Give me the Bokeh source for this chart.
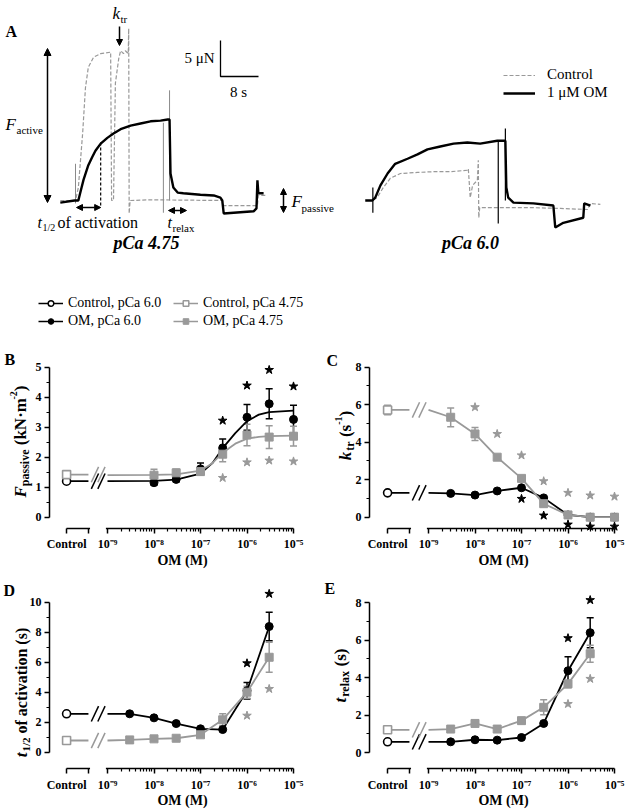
import math
import numpy as np
from bokeh.plotting import figure
from bokeh.models import (ColumnDataSource, Whisker, TeeHead, Label, Arrow, NormalHead,
                          FixedTicker, BoxAnnotation, Legend, LegendItem, Range1d)
from bokeh.layouts import column, row
from bokeh.embed import file_html
from bokeh.resources import INLINE

SERIF = "Liberation Serif"
BLACK = "#000000"
GRAY = "#999999"
TRACE_GRAY = "#8a8a8a"

# ---------------- Panel A: force traces (time in s, force in uN) ----------------
ctl475_t = [-3.2, 0.0, 0.6, 1.5, 2.1, 2.7, 3.8, 5.3, 7.4, 7.6, 8.0, 8.4, 9.1, 9.5, 10.1, 10.5, 11.1, 11.2, 11.3, 11.5, 15.8, 30.9, 31.2, 38.3, 38.5, 40.0]
ctl475_f = [0.0, 0.0, 1.8, 9.3, 15.7, 18.5, 19.9, 20.4, 20.6, 0.0, 0.0, 16.3, 19.7, 20.8, 20.4, 20.8, 20.4, 23.9, -1.8, 0.0, 0.1, 0.0, -0.7, -0.7, 0.7, 0.7]
om475_t = [-3.2, -0.2, 0.6, 1.2, 1.7, 2.7, 3.5, 4.2, 5.3, 6.7, 8.0, 9.5, 11.6, 13.7, 15.8, 17.9, 19.4, 19.8, 20.0, 20.6, 21.5, 22.7, 26.3, 29.1, 30.5, 30.9, 31.2, 33.3, 37.5, 38.1, 38.3, 38.5, 39.6]
om475_f = [-0.3, 0.0, 0.0, 1.6, 2.9, 4.9, 6.0, 6.9, 7.9, 8.7, 9.3, 9.9, 10.4, 10.7, 11.0, 11.1, 11.25, 11.25, 3.75, 1.8, 1.1, 1.0, 0.8, 0.7, 0.4, 0.0, -1.8, -1.7, -1.5, -1.1, 2.8, 1.0, 1.0]
om475_tr_t = [0.0, 18.5, 19.8]
om475_tr_lo = [-0.4, -1.7, 0.0]
om475_tr_hi = [5.1, 10.8, 15.3]

ctl60_t = [-1.0, 0.0, 1.0, 2.3, 3.8, 5.9, 9.5, 12.8, 16.4, 20.0, 20.2, 20.6, 21.1, 22.1, 22.3, 22.4, 22.6, 26.9, 33.9, 39.6, 45.3, 45.9, 48.0]
ctl60_f = [0.0, 0.0, 0.4, 1.8, 3.1, 3.75, 3.9, 4.0, 4.0, 4.2, 4.4, 0.4, 2.1, 2.8, 5.6, -2.4, -1.0, -1.0, -1.0, -1.1, -1.25, -0.4, -0.55]
om60_t = [-1.5, 0.0, 0.6, 1.7, 3.2, 4.8, 7.4, 9.5, 11.6, 14.3, 17.1, 20.0, 22.7, 26.3, 28.0, 28.2, 28.6, 29.7, 33.9, 38.1, 38.5, 40.2, 44.4, 44.6, 45.9]
om60_f = [0.0, 0.0, 0.4, 2.1, 3.75, 5.1, 5.8, 6.4, 7.1, 7.5, 7.9, 8.05, 7.9, 8.3, 8.3, 1.8, 0.4, -0.3, -0.4, -0.7, -3.75, -3.1, -2.4, -0.4, -0.7]
om60_tr_t = [0.1, 26.5, 28.0]
om60_tr_lo = [-1.7, -3.2, 0.0]
om60_tr_hi = [1.8, 8.3, 10.0]

T_HALF = 5.3          # s, half-time of activation (OM, pCa 4.75)
SCALE_FORCE = 5.0     # uN
SCALE_TIME = 8.0      # s

# ---------------- Panels B-E: concentration-response data ----------------
CONC_B = [1e-8, 3e-8, 1e-7, 3e-7, 1e-6, 3e-6, 1e-5]
CONC_C = [3e-9, 1e-8, 3e-8, 1e-7, 3e-7, 1e-6, 3e-6, 1e-5]
CONC_DE = [3e-9, 1e-8, 3e-8, 1e-7, 3e-7, 1e-6, 3e-6]

# B: F_passive (kN m^-2)
b_ctrl60, b_ctrl475 = 1.20, 1.42
b_om60 = [1.15, 1.26, 1.61, 2.31, 3.33, 3.78, 3.26]
b_om60_err = [0.08, 0.08, 0.20, 0.30, 0.43, 0.50, 0.47]
b_om475 = [1.40, 1.48, 1.52, 2.10, 2.74, 2.67, 2.70]
b_om475_err = [0.20, 0.12, 0.12, 0.25, 0.36, 0.38, 0.33]
FIT_CONC = [1e-9, 1e-8, 3e-8, 1e-7, 1.8e-7, 3e-7, 5.6e-7, 1e-6, 1.8e-6, 3e-6, 1e-5]
b_fit60 = [1.20, 1.21, 1.25, 1.45, 1.80, 2.30, 2.80, 3.20, 3.42, 3.50, 3.55]
b_fit475 = [1.40, 1.41, 1.43, 1.55, 1.80, 2.15, 2.45, 2.62, 2.68, 2.70, 2.72]
b_star60_conc = [3e-7, 1e-6, 3e-6, 1e-5]
b_star60_y = [3.22, 4.39, 4.91, 4.36]
b_star475_conc = [3e-7, 1e-6, 3e-6, 1e-5]
b_star475_y = [1.31, 1.83, 1.89, 1.86]

# C: k_tr (s^-1)
c_ctrl60, c_ctrl475 = 1.30, 5.72
c_ctrl475_err = 0.25
c_om60 = [1.27, 1.18, 1.40, 1.57, 1.03, 0.12, 0.0, 0.0]
c_om60_err = [0.05, 0.05, 0.05, 0.05, 0.05, 0.03, 0.02, 0.02]
c_om475 = [5.33, 4.44, 3.20, 2.07, 0.72, 0.12, 0.0, 0.0]
c_om475_err = [0.50, 0.35, 0.12, 0.12, 0.15, 0.05, 0.02, 0.02]
c_star475_conc = [1e-8, 3e-8, 1e-7, 3e-7, 1e-6, 3e-6, 1e-5]
c_star475_y = [5.87, 4.44, 3.30, 1.92, 1.30, 1.16, 1.10]
c_star60_conc = [1e-7, 3e-7, 1e-6, 3e-6, 1e-5]
c_star60_y = [0.98, 0.09, -0.39, -0.50, -0.50]

# D: t1/2 of activation (s)
d_ctrl60, d_ctrl475 = 2.56, 0.78
d_om60 = [2.56, 2.29, 1.91, 1.56, 1.51, 4.10, 8.38]
d_om60_err = [0.05, 0.05, 0.05, 0.05, 0.05, 0.55, 0.95]
d_om475 = [0.82, 0.89, 0.93, 1.16, 2.16, 4.00, 6.33]
d_om475_err = [0.05, 0.05, 0.05, 0.10, 0.40, 0.40, 1.00]
d_star60_conc, d_star60_y = [1e-6, 3e-6], [5.93, 10.56]
d_star475_conc, d_star475_y = [1e-6, 3e-6], [2.44, 4.22]

# E: t_relax (s)
e_ctrl60, e_ctrl475 = 0.57, 1.21
e_om60 = [0.57, 0.68, 0.66, 0.80, 1.55, 4.36, 6.39]
e_om60_err = [0.05, 0.05, 0.05, 0.05, 0.05, 0.75, 0.80]
e_om475 = [1.25, 1.55, 1.25, 1.70, 2.41, 3.66, 5.27]
e_om475_err = [0.05, 0.10, 0.05, 0.05, 0.40, 0.20, 0.45]
e_star60_conc, e_star60_y = [1e-6, 3e-6], [6.10, 8.13]
e_star475_conc, e_star475_y = [1e-6, 3e-6], [2.59, 3.93]

DECADES = [-9.0, -8.0, -7.0, -6.0, -5.0]
DECADE_LABELS = ["10\u207b\u2079", "10\u207b\u2078", "10\u207b\u2077", "10\u207b\u2076", "10\u207b\u2075"]

# ---------------- layout constants ----------------
CTRL_X = -9.88
BRACKET_END = -9.41
BREAK_X = [-9.27, -9.13]
PX_DEC = 46.5


def lg(v):
    return list(np.log10(v))


def label(p, x, y, text, size, style="normal", align="left", baseline="middle",
          color=BLACK, angle=0.0, dx=0, dy=0):
    p.add_layout(Label(x=x, y=y, text=text, text_font=SERIF, text_font_size=f"{size}px",
                       text_font_style=style, text_align=align, text_baseline=baseline,
                       text_color=color, angle=angle, x_offset=dx, y_offset=dy))


# ================= Panel A =================
A_W, A_H = 628, 330
A_T0, A_PXS = 75.0, 4.75      # page x of t=0, px per second
A_F0, A_PYU = 200.0, 7.2      # page y of F=0, px per uN
TRACE2_OFFSET = 62.5


def ax(px):
    return (px - A_T0) / A_PXS


def ay(py):
    return (A_F0 - py) / A_PYU


pA = figure(width=A_W, height=A_H, x_range=Range1d(ax(0), ax(A_W)), y_range=Range1d(ay(A_H), ay(0)),
            x_axis_type=None, y_axis_type=None, output_backend="svg",
            toolbar_location=None, title=None, min_border=0)
pA.outline_line_color = None
pA.grid.visible = False

rc1 = pA.line(ctl475_t, ctl475_f, line_color=GRAY, line_width=1.2, line_dash="4 2")
pA.segment(x0=om475_tr_t, y0=om475_tr_lo, x1=om475_tr_t, y1=om475_tr_hi,
           line_color=TRACE_GRAY, line_width=1)
ro1 = pA.line(om475_t, om475_f, line_color=BLACK, line_width=2.4)

t2c = [t + TRACE2_OFFSET for t in ctl60_t]
t2o = [t + TRACE2_OFFSET for t in om60_t]
t2tr = [t + TRACE2_OFFSET for t in om60_tr_t]
rc2 = pA.line(t2c, ctl60_f, line_color=GRAY, line_width=1.2, line_dash="4 2")
pA.segment(x0=t2tr, y0=om60_tr_lo, x1=t2tr, y1=om60_tr_hi, line_color=BLACK, line_width=1.2)
ro2 = pA.line(t2o, om60_f, line_color=BLACK, line_width=2.4)

# t1/2 marker
pA.segment(x0=[T_HALF], y0=[ay(142)], x1=[T_HALF], y1=[ay(207)], line_color=BLACK,
           line_width=1.2, line_dash="3 2")

# scale bar
sb_x, sb_y = ax(220), ay(76)
pA.line([sb_x, sb_x, sb_x + SCALE_TIME], [sb_y + SCALE_FORCE, sb_y, sb_y],
        line_color=BLACK, line_width=1.3)
label(pA, ax(214), ay(57), "5 \u03bcN", 15, align="right")
label(pA, ax(238), ay(91), "8 s", 15, align="center")


def darrow(x0, y0, x1, y1, size=7, both=True):
    pA.add_layout(Arrow(x_start=x0, y_start=y0, x_end=x1, y_end=y1, line_width=1.5,
                        start=NormalHead(size=size, fill_color=BLACK, line_color=BLACK) if both else None,
                        end=NormalHead(size=size, fill_color=BLACK, line_color=BLACK)))


darrow(ax(47), ay(202), ax(47), ay(48))
darrow(ax(76), ay(207), T_HALF, ay(207), size=6)
darrow(ax(168), ay(210), ax(186), ay(210), size=6)
darrow(ax(283), ay(212), ax(283), ay(188), size=6)
darrow(ax(119), ay(26), ax(119), ay(45), size=6, both=False)

label(pA, ax(5), ay(31), "A", 16, "bold")
label(pA, ax(112), ay(13), "k", 17, "italic")
label(pA, ax(120), ay(18), "tr", 11)
label(pA, ax(5), ay(124), "F", 17, "italic")
label(pA, ax(16), ay(129), "active", 11)
label(pA, ax(37), ay(222), "t", 16, "italic")
label(pA, ax(42), ay(227), "1/2", 10)
label(pA, ax(57), ay(222), "of activation", 16)
label(pA, ax(167), ay(222), "t", 16, "italic")
label(pA, ax(172), ay(227), "relax", 11)
label(pA, ax(291), ay(201), "F", 17, "italic")
label(pA, ax(301), ay(207), "passive", 11)
label(pA, ax(146), ay(242), "pCa 4.75", 18, "bold italic", align="center")
label(pA, ax(470), ay(242), "pCa 6.0", 18, "bold italic", align="center")

legA = Legend(items=[LegendItem(label="Control", renderers=[rc2]),
                     LegendItem(label="1 \u03bcM OM", renderers=[ro2])],
              location=(503, 229), glyph_width=32, glyph_height=14, label_standoff=12,
              label_height=14, spacing=1, padding=0, margin=0, border_line_color=None,
              background_fill_alpha=0, label_text_font=SERIF, label_text_font_size="15px",
              label_text_color=BLACK)
pA.add_layout(legA)

# legend for panels B-E (drawn in the lower area of A); the sample renderers hold one
# point placed outside the visible range so only their legend glyphs show
OFF = [-1000.0]
l1 = pA.line(OFF, OFF, line_color=BLACK, line_width=1.5)
m1 = pA.scatter(OFF, OFF, marker="circle", size=8, fill_color="white", line_color=BLACK, line_width=1.5)
l2 = pA.line(OFF, OFF, line_color=BLACK, line_width=1.5)
m2 = pA.scatter(OFF, OFF, marker="circle", size=8, fill_color=BLACK, line_color=BLACK)
l3 = pA.line(OFF, OFF, line_color=GRAY, line_width=1.5)
m3 = pA.scatter(OFF, OFF, marker="square", size=8, fill_color="white", line_color=GRAY, line_width=1.5)
l4 = pA.line(OFF, OFF, line_color=GRAY, line_width=1.5)
m4 = pA.scatter(OFF, OFF, marker="square", size=8, fill_color=GRAY, line_color=GRAY)
legP = Legend(items=[LegendItem(label="Control, pCa 6.0", renderers=[l1, m1]),
                     LegendItem(label="OM, pCa 6.0", renderers=[l2, m2]),
                     LegendItem(label="Control, pCa 4.75", renderers=[l3, m3]),
                     LegendItem(label="OM, pCa 4.75", renderers=[l4, m4])],
              location=(38, 1), ncols=2, glyph_width=25, glyph_height=14, label_standoff=5,
              label_width=103, label_height=14, spacing=2, padding=0, margin=0,
              border_line_color=None, background_fill_alpha=0, label_text_font=SERIF,
              label_text_font_size="14px", label_text_color=BLACK)
pA.add_layout(legP)

# ================= Panels B-E =================
BW = {' ': .25, '(': .333, ')': .333, 'k': .556, 'N': .722, 'm': .833, '\u00b7': .25, 's': .389,
      'o': .5, 'f': .333, 'a': .5, 'c': .444, 't': .333, 'i': .278, 'v': .5, 'n': .556, 'e': .444,
      'p': .556, 'r': .444, 'l': .278, 'x': .5, '1': .5, '/': .278, '2': .5, '-': .333, 'F': .667}


def tw(s, size):
    return sum(BW.get(ch, .5) for ch in s) * size


class Geo:
    """Page geometry of one panel: figure box, x of the 1e-9 tick, y of value 0."""

    def __init__(self, x0, w, y0, h, x_m9, x_yaxis, y_zero, ppu, y_xaxis):
        self.x0, self.w, self.y0, self.h = x0, w, y0, h
        self.x_m9, self.y_zero, self.ppu = x_m9, y_zero, ppu
        self.xr = (self.dx(x0), self.dx(x0 + w))
        self.yr = (self.dy(y0 + h), self.dy(y0))
        self.axis_x = self.dx(x_yaxis)
        self.axis_y = self.dy(y_xaxis)

    def dx(self, px):
        return DECADES[0] + (px - self.x_m9) / PX_DEC

    def dy(self, py):
        return (self.y_zero - py) / self.ppu


def make_panel(g, ybounds, ymajor, yminor):
    p = figure(width=g.w, height=g.h, x_range=Range1d(*g.xr), y_range=Range1d(*g.yr),
               output_backend="svg", toolbar_location=None, title=None, min_border=0)
    p.outline_line_color = None
    p.grid.visible = False
    for a in (p.xaxis[0], p.yaxis[0]):
        a.axis_line_width = 1.5
        a.major_tick_line_width = 1.5
        a.minor_tick_line_width = 1.2
        a.major_tick_in = 0
        a.minor_tick_in = 0
        a.major_label_text_font = SERIF
        a.major_label_text_font_style = "bold"
        a.major_label_text_color = BLACK
    xa = p.xaxis[0]
    xa.fixed_location = g.axis_y
    minor = [n + math.log10(k) for n in (-9, -8, -7, -6) for k in range(2, 10)]
    xa.ticker = FixedTicker(ticks=[CTRL_X, BRACKET_END] + DECADES, minor_ticks=minor)
    ov = {CTRL_X: "Control", BRACKET_END: ""}
    ov.update({d: s for d, s in zip(DECADES, DECADE_LABELS)})
    xa.major_label_overrides = ov
    xa.bounds = (CTRL_X, DECADES[-1])
    xa.major_tick_out = 5
    xa.minor_tick_out = 3
    xa.major_label_standoff = 4
    xa.major_label_text_font_size = "12px"
    ya = p.yaxis[0]
    ya.fixed_location = g.axis_x
    ya.ticker = FixedTicker(ticks=ymajor, minor_ticks=yminor)
    ya.bounds = ybounds
    ya.major_tick_out = 5
    ya.minor_tick_out = 3
    ya.major_label_standoff = 3
    ya.major_label_text_font_size = "12px"
    # gap in the x axis between the control bracket and the log axis
    p.add_layout(BoxAnnotation(left=BRACKET_END + 1.6 / PX_DEC, right=DECADES[0] - 1.6 / PX_DEC,
                               bottom=g.axis_y - 3.5 / g.ppu, top=g.axis_y + 1.5 / g.ppu,
                               fill_color="white", fill_alpha=1.0, line_alpha=0.0))
    label(p, g.dx(g.x_m9 + 75), g.axis_y, "OM (M)", 14, "bold", align="center", dy=-32)
    return p


def series(p, conc, vals, errs, ctrl, ctrl_err, color, marker, line_x=None, line_y=None):
    x = lg(conc)
    if line_x is None:
        line_x, line_y = [DECADES[0]] + x, [ctrl] + list(vals)
    p.line([CTRL_X, BRACKET_END], [ctrl, ctrl], line_color=color, line_width=1.8)
    p.line(line_x, line_y, line_color=color, line_width=1.8)
    p.scatter(BREAK_X, [ctrl, ctrl], marker="dash", size=17, angle=1.13,
              line_color=color, line_width=1.5)
    ex = x + [CTRL_X]
    ev = list(vals) + [ctrl]
    ee = list(errs) + [ctrl_err]
    src = ColumnDataSource(dict(x=ex, lo=[v - e for v, e in zip(ev, ee)],
                                hi=[v + e for v, e in zip(ev, ee)]))
    p.add_layout(Whisker(source=src, base="x", lower="lo", upper="hi", line_color=color,
                         line_width=1.5,
                         lower_head=TeeHead(size=7, line_color=color, line_width=1.5),
                         upper_head=TeeHead(size=7, line_color=color, line_width=1.5)))
    p.scatter(x, vals, marker=marker, size=8, fill_color=color, line_color=color)
    p.scatter([CTRL_X], [ctrl], marker=marker, size=8, fill_color="white",
              line_color=color, line_width=1.6)


def stars(p, conc, ys, color):
    p.scatter(lg(conc), ys, marker="star", size=9, fill_color=color, line_color=color)


def vtitle(p, g, base_px, center_py, pieces):
    """Rotated axis title built from styled pieces (text, size, style, baseline shift)."""
    prepared = []
    for t, s, st, shift in pieces:
        gap = 0.0
        if t.startswith(" "):
            gap = tw(" ", s)
            t = t.lstrip()
        prepared.append((t, s, st, shift, gap))
    total = sum(gap + tw(t, s) for t, s, _, _, gap in prepared)
    pos = -total / 2
    for t, s, st, shift, gap in prepared:
        pos += gap
        label(p, g.dx(base_px + shift), g.dy(center_py), t, s, st, align="left",
              baseline="alphabetic", angle=math.pi / 2, dy=pos)
        pos += tw(t, s)


def letter(p, g, text, px, py):
    label(p, g.dx(px), g.dy(py), text, 16, "bold")


GEO_B = Geo(0, 314, 330, 242, 107, 49, 516.7, 30.0, 527.5)
GEO_C = Geo(314, 314, 330, 242, 428, 369, 516.7, 18.75, 527.5)
GEO_D = Geo(0, 314, 572, 238, 107, 49, 751.7, 15.0, 768)
GEO_E = Geo(314, 314, 572, 238, 428, 369, 752.0, 18.75, 768)

# ---- B ----
pB = make_panel(GEO_B, (0, 5), [0, 1, 2, 3, 4, 5], [0.5, 1.5, 2.5, 3.5, 4.5])
series(pB, CONC_B, b_om60, b_om60_err, b_ctrl60, 0.05, BLACK, "circle", lg(FIT_CONC), b_fit60)
series(pB, CONC_B, b_om475, b_om475_err, b_ctrl475, 0.06, GRAY, "square", lg(FIT_CONC), b_fit475)
stars(pB, b_star60_conc, b_star60_y, BLACK)
stars(pB, b_star475_conc, b_star475_y, GRAY)
vtitle(pB, GEO_B, 20, 441, [("F", 17, "bold italic", 0), ("passive", 12, "bold", 4),
                            (" (kN\u00b7m", 17, "bold", 0), ("-2", 10, "bold", -7),
                            (")", 17, "bold", 0)])
letter(pB, GEO_B, "B", 4, 359)

# ---- C ----
pC = make_panel(GEO_C, (0, 8), [0, 2, 4, 6, 8], [1, 3, 5, 7])
series(pC, CONC_C, c_om60, c_om60_err, c_ctrl60, 0.05, BLACK, "circle")
series(pC, CONC_C, c_om475, c_om475_err, c_ctrl475, c_ctrl475_err, GRAY, "square")
stars(pC, c_star475_conc, c_star475_y, GRAY)
stars(pC, c_star60_conc, c_star60_y, BLACK)
vtitle(pC, GEO_C, 345, 435, [("k", 17, "bold italic", 0), ("tr", 12, "bold", 4),
                             (" (s", 17, "bold", 0), ("-1", 10, "bold", -7),
                             (")", 17, "bold", 0)])
letter(pC, GEO_C, "C", 326, 360)

# ---- D ----
pD = make_panel(GEO_D, (0, 10), [0, 2, 4, 6, 8, 10], [1, 3, 5, 7, 9])
series(pD, CONC_DE, d_om60, d_om60_err, d_ctrl60, 0.05, BLACK, "circle")
series(pD, CONC_DE, d_om475, d_om475_err, d_ctrl475, 0.05, GRAY, "square")
stars(pD, d_star60_conc, d_star60_y, BLACK)
stars(pD, d_star475_conc, d_star475_y, GRAY)
vtitle(pD, GEO_D, 21, 692, [("t", 17, "bold italic", 0), ("1/2", 11, "bold", 4),
                            (" of activation (s)", 16, "bold", 0)])
letter(pD, GEO_D, "D", 3, 590)

# ---- E ----
pE = make_panel(GEO_E, (0, 8), [0, 2, 4, 6, 8], [1, 3, 5, 7])
series(pE, CONC_DE, e_om60, e_om60_err, e_ctrl60, 0.05, BLACK, "circle")
series(pE, CONC_DE, e_om475, e_om475_err, e_ctrl475, 0.06, GRAY, "square")
stars(pE, e_star60_conc, e_star60_y, BLACK)
stars(pE, e_star475_conc, e_star475_y, GRAY)
vtitle(pE, GEO_E, 340, 675, [("t", 17, "bold italic", 0), ("relax", 12, "bold", 4),
                             (" (s)", 17, "bold", 0)])
letter(pE, GEO_E, "E", 324, 588)

layout = column(pA, row(pB, pC), row(pD, pE))
open("out.html", "w").write(file_html(layout, INLINE))
